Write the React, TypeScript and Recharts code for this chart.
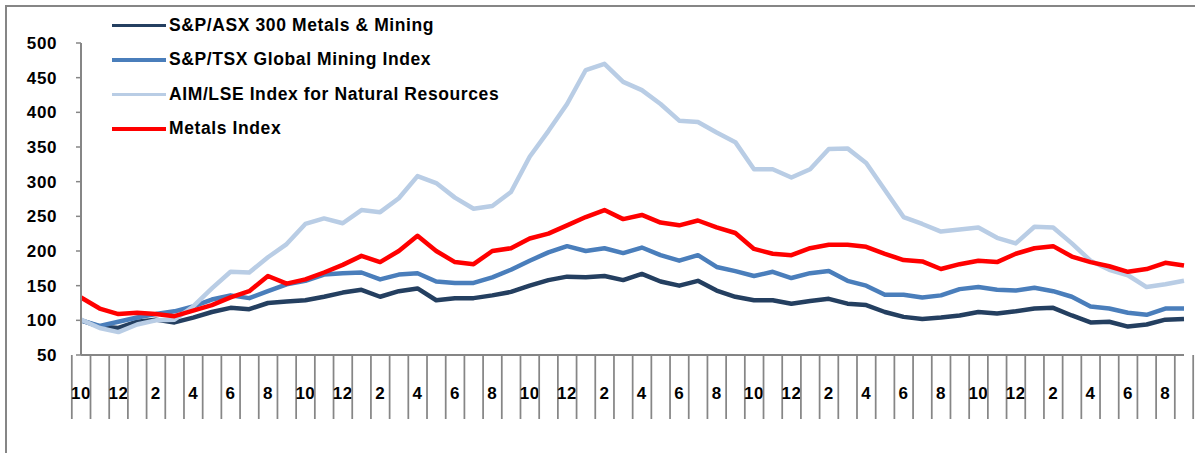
import React from "react";
import { LineChart, Line, XAxis, YAxis } from "recharts";

const MONTHS = [
  10, 11, 12, 1, 2, 3, 4, 5, 6, 7, 8, 9,
  10, 11, 12, 1, 2, 3, 4, 5, 6, 7, 8, 9,
  10, 11, 12, 1, 2, 3, 4, 5, 6, 7, 8, 9,
  10, 11, 12, 1, 2, 3, 4, 5, 6, 7, 8, 9,
  10, 11, 12, 1, 2, 3, 4, 5, 6, 7, 8, 9,
];

const ASX = [
  100, 91, 89, 98, 101, 97, 104, 112, 118, 116, 125, 127, 129, 134, 140, 144, 134, 142, 146, 129,
  132, 132, 136, 141, 150, 158, 163, 162, 164, 158, 167, 156, 150, 157, 143, 134, 129, 129, 124, 128,
  131, 124, 122, 112, 105, 102, 104, 107, 112, 110, 113, 117, 118, 107, 97, 98, 91, 94, 101, 102,
];

const TSX = [
  100, 92, 98, 104, 109, 113, 120, 130, 136, 132, 142, 152, 157, 166, 168, 169, 159, 166, 168, 156,
  154, 154, 162, 173, 186, 198, 207, 200, 204, 197, 205, 194, 186, 194, 177, 171, 164, 170, 161, 168,
  171, 157, 150, 137, 137, 133, 136, 145, 148, 144, 143, 147, 142, 134, 120, 117, 111, 108, 117, 117,
];

const AIM = [
  101, 89, 83, 94, 100, 101, 120, 146, 170, 169, 191, 210, 239, 247, 240, 259, 256, 276, 308, 298,
  277, 261, 265, 285, 336, 373, 412, 461, 470, 444, 432, 412, 388, 386, 371, 357, 318, 318, 306, 318,
  347, 348, 327, 288, 249, 239, 228, 231, 234, 219, 211, 235, 234, 211, 186, 173, 165, 148, 152, 157,
];

const METALS = [
  133, 117, 109, 111, 109, 106, 114, 122, 133, 142, 164, 153, 159, 169, 180, 193, 184, 200, 222, 200,
  184, 181, 200, 204, 218, 225, 237, 249, 259, 246, 252, 241, 237, 244, 234, 226, 203, 196, 194, 204,
  209, 209, 206, 196, 187, 185, 174, 181, 186, 184, 196, 204, 207, 192, 184, 178, 170, 174, 183, 179,
];

const Y_TICKS = [50, 100, 150, 200, 250, 300, 350, 400, 450, 500];

const SERIES = [
  { key: "asx", name: "S&P/ASX 300 Metals & Mining", color: "#243F60" },
  { key: "tsx", name: "S&P/TSX Global Mining Index", color: "#4A7EBB" },
  { key: "aim", name: "AIM/LSE Index for Natural Resources", color: "#B9CDE5" },
  { key: "metals", name: "Metals Index", color: "#FF0000" },
];

const data = MONTHS.map((m, i) => ({
  key: i,
  asx: ASX[i],
  tsx: TSX[i],
  aim: AIM[i],
  metals: METALS[i],
}));

const FONT = "'Liberation Sans', Arial, sans-serif";
const AXIS_GRAY = "#868686";
const WIDTH = 1195;
const HEIGHT = 453;
const MARGIN = { top: 43, right: 11, left: 0, bottom: 28 };
const Y_WIDTH = 81;
const FALLBACK_HALF = (WIDTH - MARGIN.right - Y_WIDTH) / MONTHS.length / 2;

function MonthTick(props: any) {
  const { x, y, payload, index, visibleTicksCount } = props;
  const half = payload && typeof payload.offset === "number" && payload.offset > 0 ? payload.offset : FALLBACK_HALF;
  const m = MONTHS[payload.value];
  const isLast = index === visibleTicksCount - 1;
  return (
    <g>
      <line x1={x - half} x2={x - half} y1={y} y2={y + 64} stroke={AXIS_GRAY} strokeWidth={1.75} />
      {isLast && (
        <line x1={x + half} x2={x + half} y1={y} y2={y + 64} stroke={AXIS_GRAY} strokeWidth={1.75} />
      )}
      {m % 2 === 0 && (
        <text
          x={x}
          y={y + 38}
          textAnchor="middle"
          dominantBaseline="central"
          fontFamily={FONT}
          fontWeight="bold"
          fontSize={17}
          letterSpacing={0.5}
          fill="#000"
        >
          {m}
        </text>
      )}
    </g>
  );
}

function ChartLegend() {
  return (
    <div style={{ position: "absolute", left: 112, top: 8, display: "flex", flexDirection: "column" }}>
      {SERIES.map((s) => (
        <div key={s.key} style={{ display: "flex", alignItems: "center", height: 34.5 }}>
          <div style={{ width: 54, height: 3.5, background: s.color, marginRight: 3 }} />
          <span
            style={{
              fontFamily: FONT,
              fontWeight: "bold",
              fontSize: 17.5,
              letterSpacing: 0.6,
              color: "#000",
              whiteSpace: "nowrap",
            }}
          >
            {s.name}
          </span>
        </div>
      ))}
    </div>
  );
}

export default function App() {
  return (
    <div style={{ position: "absolute", left: 0, top: 0, width: WIDTH, height: HEIGHT, overflow: "hidden", background: "#fff" }}>
      <div
        style={{
          position: "absolute",
          left: 5,
          top: 5,
          width: WIDTH + 20,
          height: HEIGHT + 20,
          border: `2px solid ${AXIS_GRAY}`,
          boxSizing: "border-box",
        }}
      />
      <div style={{ position: "absolute", left: 0, top: 0 }}>
        <LineChart width={WIDTH} height={HEIGHT} data={data} margin={MARGIN}>
          <XAxis
            dataKey="key"
            type="category"
            interval={0}
            tick={<MonthTick />}
            tickLine={false}
            tickSize={0}
            tickMargin={0}
            height={70}
            axisLine={{ stroke: AXIS_GRAY, strokeWidth: 2 }}
          />
          <YAxis
            domain={[50, 500]}
            ticks={Y_TICKS}
            interval={0}
            width={Y_WIDTH}
            tickSize={5}
            tickMargin={19}
            axisLine={{ stroke: AXIS_GRAY, strokeWidth: 2 }}
            tickLine={{ stroke: AXIS_GRAY, strokeWidth: 1.5 }}
            tick={{ fontFamily: FONT, fontWeight: "bold", fontSize: 17, fill: "#000", letterSpacing: 0.6 }}
          />
          {SERIES.map((s) => (
            <Line
              key={s.key}
              type="linear"
              dataKey={s.key}
              name={s.name}
              stroke={s.color}
              strokeWidth={4.5}
              strokeLinejoin="round"
              dot={false}
              activeDot={false}
              isAnimationActive={false}
            />
          ))}
        </LineChart>
      </div>
      <ChartLegend />
    </div>
  );
}
